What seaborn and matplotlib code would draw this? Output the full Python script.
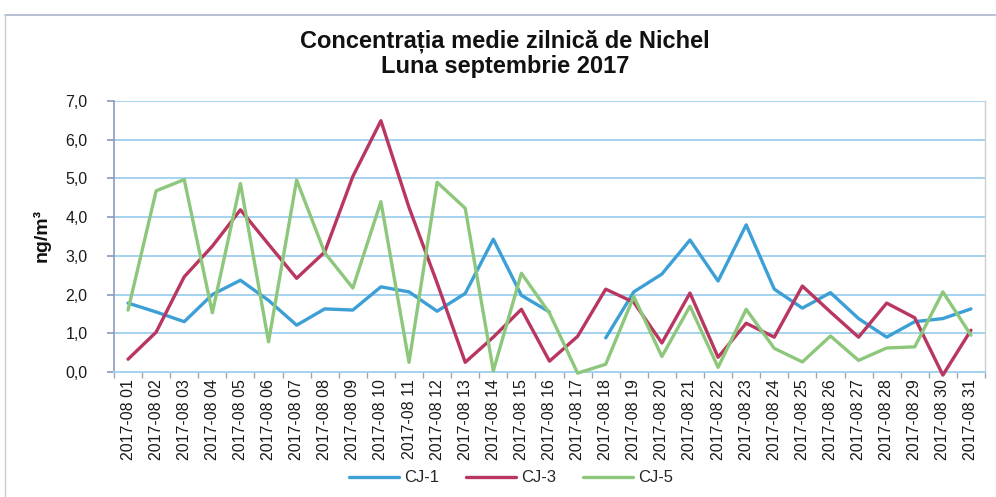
import numpy as np
import pandas as pd
import matplotlib
matplotlib.use("Agg")
import matplotlib.pyplot as plt
from matplotlib.ticker import FuncFormatter, FixedLocator
import seaborn as sns

# ---- data ----
day_labels = ["2017-08 01", "2017-08 02", "2017-08 03", "2017-08 04", "2017-08 05",
              "2017-08 06", "2017-08 07", "2017-08 08", "2017-08 09", "2017-08 10",
              "2017-08 11", "2017-08 12", "2017-08 13", "2017-08 14", "2017-08 15",
              "2017-08 16", "2017-08 17", "2017-08 18", "2017-08 19", "2017-08 20",
              "2017-08 21", "2017-08 22", "2017-08 23", "2017-08 24", "2017-08 25",
              "2017-08 26", "2017-08 27", "2017-08 28", "2017-08 29", "2017-08 30",
              "2017-08 31"]

cj1 = [1.78, 1.55, 1.30, 2.00, 2.37, 1.85, 1.21, 1.63, 1.60, 2.20,
       2.07, 1.57, 2.03, 3.43, 1.98, 1.55, np.nan, 0.88, 2.07, 2.53,
       3.41, 2.35, 3.80, 2.14, 1.65, 2.05, 1.38, 0.90, 1.30, 1.38,
       1.63]
cj3 = [0.33, 1.03, 2.46, 3.25, 4.19, 3.30, 2.42, 3.10, 5.05, 6.49,
       4.25, 2.30, 0.25, 0.90, 1.62, 0.28, 0.92, 2.14, 1.80, 0.75,
       2.04, 0.38, 1.26, 0.90, 2.22, 1.55, 0.90, 1.78, 1.40, -0.08,
       1.08]
cj5 = [1.60, 4.68, 4.97, 1.53, 4.87, 0.78, 4.96, 3.08, 2.17, 4.40,
       0.25, 4.90, 4.23, 0.03, 2.55, 1.52, -0.03, 0.20, 1.95, 0.40,
       1.70, 0.12, 1.62, 0.61, 0.26, 0.93, 0.30, 0.62, 0.65, 2.07,
       0.95]

series_names = ["CJ-1", "CJ-3", "CJ-5"]
series_values = [cj1, cj3, cj5]
colors = {"CJ-1": "#3c9fd6", "CJ-3": "#b8365f", "CJ-5": "#8dc77b"}

rows = []
for name, vals in zip(series_names, series_values):
    seg = 0
    for i, v in enumerate(vals):
        if np.isnan(v):
            seg += 1
            continue
        rows.append({"series": name, "pos": i, "value": v, "seg": seg})
df = pd.DataFrame(rows)

sns.set_theme(style="white")
plt.rcParams["font.family"] = ["Liberation Sans", "DejaVu Sans"]

fig = plt.figure(figsize=(9.96, 4.97), dpi=100)
ax = fig.add_axes([114 / 996, 1 - 372 / 497, 871 / 996, 271 / 497])

sns.lineplot(data=df, x="pos", y="value", hue="series", units="seg",
             estimator=None, palette=colors, linewidth=2.4, ax=ax,
             clip_on=False, zorder=3)

ax.set_xlim(-0.5, len(day_labels) - 0.5)
ax.set_ylim(0, 7)
ax.set_yticks(np.arange(0, 7.01, 1.0))
ax.yaxis.set_major_formatter(FuncFormatter(lambda v, p: f"{v:.1f}".replace(".", ",")))
ax.set_xticks(range(len(day_labels)))
ax.set_xticklabels(day_labels, rotation=90, fontsize=11.5, color="#1a1a1a")
ax.xaxis.set_minor_locator(FixedLocator([i + 0.5 for i in range(-1, len(day_labels))]))
ax.tick_params(axis="x", which="major", length=0, pad=5)
ax.tick_params(axis="x", which="minor", length=4, color="#9aa6c0", bottom=True)
ax.tick_params(axis="y", length=5, color="#8e9bbb", left=True, labelsize=11.5,
               labelcolor="#1a1a1a", pad=14)
ax.set_xlabel("")
ax.set_ylabel("")

ax.grid(axis="y", color="#a6d2ef", linewidth=1.4)
ax.set_axisbelow(True)
ax.spines["top"].set_visible(False)
ax.spines["left"].set_color("#8e9bbb")
ax.spines["left"].set_linewidth(1.2)
ax.spines["bottom"].set_color("#a6d2ef")
ax.spines["bottom"].set_linewidth(1.4)
ax.spines["right"].set_color("#c8cdd6")
ax.spines["right"].set_linewidth(1.0)

sns.move_legend(ax, "center", bbox_to_anchor=(511 / 996, 1 - 478 / 497),
                bbox_transform=fig.transFigure, ncol=3, frameon=False,
                title=None, fontsize=12, handlelength=3.0, columnspacing=1.6,
                handletextpad=0.3)

fig.text(505 / 996, 1 - 41 / 497, "Concentrația medie zilnică de Nichel",
         ha="center", va="center", fontsize=17, fontweight="bold", color="#111111")
fig.text(505 / 996, 1 - 67 / 497, "Luna septembrie 2017",
         ha="center", va="center", fontsize=17, fontweight="bold", color="#111111")
fig.text(42 / 996, 1 - 236 / 497, "ng/m³", rotation=90, ha="center", va="center",
         fontsize=14, fontweight="bold", color="#111111")

# chart-area border (top and left)
fig.add_artist(plt.Line2D([5 / 996, 1.0], [1 - 15 / 497, 1 - 15 / 497],
                          transform=fig.transFigure, color="#aab6cc", linewidth=1.2))
fig.add_artist(plt.Line2D([5 / 996, 5 / 996], [1 - 15 / 497, 0.0],
                          transform=fig.transFigure, color="#c4ccda", linewidth=1.0))

fig.savefig("out.png", dpi=100)
